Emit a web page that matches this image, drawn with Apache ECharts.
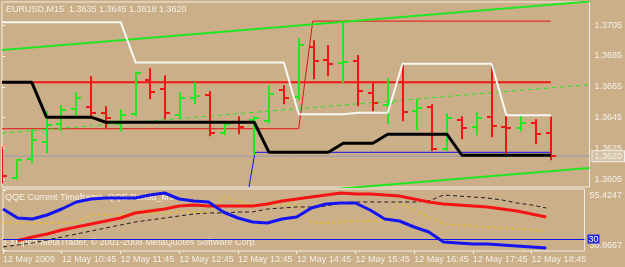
<!DOCTYPE html>
<html><head><meta charset="utf-8">
<script src="https://cdn.jsdelivr.net/npm/echarts@6/dist/echarts.min.js"></script>
<style>html,body{margin:0;padding:0;background:#CBAF89;}#c{width:625px;height:267px;}</style>
</head><body><div id="c"></div>
<script>
// ---------- data ----------
const symbolName = 'EURUSD,M15';
const tickIdx = [0, 4, 8, 12, 16, 20, 24, 28, 32, 36];
const tickLabels = ['12 May 2009','12 May 10:45','12 May 11:45','12 May 12:45','12 May 13:45','12 May 14:45','12 May 15:45','12 May 16:45','12 May 17:45','12 May 18:45'];
const priceTicks = [1.3605, 1.3625, 1.3645, 1.3665, 1.3685, 1.3705];
const qqeTicks = [55.4247, 30.8667];

const opens = [1.36225,1.36056,1.36180,1.36290,1.36407,1.36505,1.36517,1.36479,1.36407,1.36472,1.36693,1.36634,1.36466,1.36576,1.36595,1.36349,1.36420,1.36433,1.36427,1.36628,1.36582,1.36907,1.36823,1.36803,1.36816,1.36608,1.36530,1.36680,1.36492,1.36517,1.36245,1.36433,1.36388,1.36453,1.36388,1.36381,1.36414,1.3635];
const highs = [1.36251,1.36173,1.36368,1.36485,1.36524,1.36608,1.36712,1.36517,1.36498,1.36745,1.36764,1.36719,1.36608,1.36673,1.36615,1.36420,1.36453,1.36453,1.36654,1.36654,1.36959,1.36946,1.36914,1.37069,1.36849,1.36673,1.36699,1.36790,1.36563,1.36530,1.36472,1.36453,1.36479,1.36797,1.36453,1.36459,1.36433,1.3645];
const lows = [1.36030,1.36056,1.36160,1.36225,1.36368,1.36453,1.36453,1.36388,1.36368,1.36466,1.36576,1.36446,1.36446,1.36543,1.36336,1.36342,1.36349,1.36212,1.36420,1.36543,1.36569,1.36706,1.36725,1.36680,1.36530,1.36498,1.36414,1.36433,1.36375,1.36238,1.36238,1.36316,1.36342,1.36329,1.36206,1.36368,1.36284,1.3618];
const closes = [1.36069,1.36173,1.36303,1.36401,1.36498,1.36576,1.36479,1.36446,1.36466,1.36738,1.36615,1.36479,1.36576,1.36589,1.36349,1.36407,1.36388,1.36446,1.36602,1.36576,1.36920,1.36816,1.36797,1.36810,1.36621,1.36543,1.36543,1.36485,1.36511,1.36245,1.36446,1.36381,1.36446,1.36394,1.36381,1.36414,1.36342,1.3620];

const whiteStop = [1.37069,1.37069,1.37069,1.37069,1.37069,1.37069,1.37069,1.37069,1.37069,1.36808,1.36808,1.36808,1.36808,1.36808,1.36808,1.36808,1.36808,1.36808,1.36808,1.36808,1.36472,1.36472,1.36472,1.36472,1.36482,1.36482,1.36482,1.36800,1.36800,1.36800,1.36800,1.36800,1.36800,1.36800,1.36466,1.36466,1.36466,1.36466];
const blackStop = [1.36680,1.36680,1.36680,1.36453,1.36453,1.36453,1.36453,1.36420,1.36420,1.36420,1.36420,1.36420,1.36420,1.36420,1.36420,1.36420,1.36420,1.36420,1.36225,1.36225,1.36225,1.36225,1.36225,1.36284,1.36284,1.36284,1.36342,1.36342,1.36342,1.36342,1.36342,1.36206,1.36206,1.36206,1.36206,1.36206,1.36206,1.36206];

// drawn objects: [bar index, price]
const channelUpper = [[0, 1.36888], [39.6, 1.37203]];
const channelMid = [[0, 1.36349], [39.6, 1.36664]];
const channelLower = [[0, 1.35808], [39.6, 1.36123]];
const redLevel = [[0, 1.3668], [37, 1.3668]];
const redThin = [[0, 1.36378], [20, 1.36378], [20.95, 1.37076], [37, 1.37076]];
const blueObj = [[16.65, 1.3600], [17.05, 1.36225], [37, 1.36225]];
const bidSpan = [0, 39.6];

// QQE sub-window
const qqeBlue = [47.61,43.92,43.51,45.15,47.61,50.48,51.70,52.11,52.11,52.11,53.34,54.16,51.70,50.89,50.48,46.38,43.92,42.28,41.87,43.51,44.33,48.02,49.66,50.07,50.07,47.20,43.51,42.69,40.23,38.18,34.09,33.68,33.27,33.27,32.86,32.45,32.04,31.63];
const qqeRed = [null,34.7,36.14,37.36,39.00,40.23,41.46,42.69,43.92,45.97,46.79,47.61,48.84,49.25,48.84,48.84,48.84,48.84,49.66,50.89,51.70,52.52,53.34,54.16,53.75,53.75,53.34,52.93,51.70,50.48,49.66,49.25,48.84,48.43,47.61,46.79,45.56,44.33];
const qqeYellow = [41.87,41.87,41.87,41.87,41.87,41.87,45.15,45.15,45.15,45.97,45.97,45.97,46.38,46.38,46.38,52.52,50.89,49.25,49.25,49.25,49.66,41.87,41.87,42.28,42.69,42.69,43.10,50.07,47.20,44.33,41.46,41.05,40.64,40.23,39.82,39.41,39.00,38.59];
const qqeBlack = [32.04,32.86,33.68,34.91,36.14,37.36,38.59,39.82,41.05,42.28,43.10,43.92,44.74,45.56,45.97,45.97,46.38,46.38,47.61,48.02,48.43,48.43,48.84,50.07,50.48,50.48,50.48,50.48,50.48,50.89,53.34,52.93,52.52,52.11,51.29,50.07,49.25,48.02];
const qqeLevel = 35.3;
const qqeLevelText = '30';

// ---------- chart ----------
const FONT = '"Liberation Sans", Arial, sans-serif';
const FS = 9;
const BG = '#CBAF89', FRAME = '#F2EEE6', TXT = '#F4F0E8';
const BULL = '#22E622', BEAR = '#F41414';
const last = closes.length - 1;
const bid = closes[last];
const pts = a => a.map((v, i) => [i, v]);
const ohlc = opens.map((o, i) => [i, o, highs[i], lows[i], closes[i]]);

const chart = echarts.init(document.getElementById('c'), null, {renderer: 'canvas'});
const lineS = (name, data, color, width, extra) => Object.assign({
  name, type: 'line', data, xAxisIndex: 0, yAxisIndex: 0, symbol: 'none', showSymbol: false,
  silent: true, animation: false, clip: true,
  lineStyle: {color, width}, z: 3
}, extra || {});
const tStyle = {color: TXT, fontSize: FS, fontWeight: 'normal', fontFamily: FONT};

chart.setOption({
  backgroundColor: BG,
  animation: false,
  textStyle: {fontFamily: FONT},
  title: [
    {text: symbolName + '  ' + [opens[last], highs[last], lows[last], closes[last]].map(v => v.toFixed(4)).join(' '),
     left: 6, top: 5, padding: 0, z: 8, textStyle: tStyle},
    {text: 'QQE Current Timeframe  QQE Period_M5', left: 5, top: 193, padding: 0, z: 1, textStyle: tStyle},
    {text: 'FXOpen MetaTrader, \u00A9 2001-2008 MetaQuotes Software Corp.', left: 4, top: 238, padding: 0, z: 1, textStyle: tStyle}
  ],
  grid: [
    {left: 2, top: 2, width: 588, height: 185, show: true, borderColor: FRAME, borderWidth: 1, backgroundColor: 'transparent'},
    {left: 2, top: 189, width: 588, height: 62, show: true, borderColor: FRAME, borderWidth: 1, backgroundColor: 'transparent'}
  ],
  xAxis: [
    {type: 'value', gridIndex: 0, min: 0, max: 39.6, show: false},
    {type: 'value', gridIndex: 1, min: 0, max: 39.6,
     axisLine: {show: false}, splitLine: {show: false},
     axisTick: {show: true, customValues: tickIdx, length: 3, lineStyle: {color: FRAME}},
     axisLabel: {customValues: tickIdx, formatter: v => tickLabels[tickIdx.indexOf(v)], align: 'left',
                 margin: 4, color: TXT, fontSize: FS, fontFamily: FONT}}
  ],
  yAxis: [
    {type: 'value', gridIndex: 0, position: 'right', min: 1.3600, max: 1.3720,
     axisLine: {show: false}, splitLine: {show: false},
     axisTick: {show: true, customValues: priceTicks, length: 3, lineStyle: {color: FRAME}},
     axisLabel: {customValues: priceTicks, formatter: v => v.toFixed(4), margin: 5, color: TXT, fontSize: FS, fontFamily: FONT}},
    {type: 'value', gridIndex: 1, position: 'right', min: 30.4, max: 55.8,
     axisLine: {show: false}, splitLine: {show: false},
     axisTick: {show: true, customValues: qqeTicks, length: 3, lineStyle: {color: FRAME}},
     axisLabel: {customValues: qqeTicks, margin: 5, color: TXT, fontSize: FS, fontFamily: FONT,
       formatter: v => (v > 43 ? '{a|' : '{b|') + v.toFixed(4) + '}',
       rich: {a: {padding: [11, 0, 0, 0], color: TXT, fontSize: FS, fontFamily: FONT},
              b: {padding: [0, 0, 8, 0], color: TXT, fontSize: FS, fontFamily: FONT}}}}
  ],
  series: [
    lineS('bid', bidSpan.map(x => [x, bid]), '#9696B0', 1, {z: 2,
      endLabel: {show: true, distance: 3, formatter: () => bid.toFixed(4),
        color: TXT, fontSize: FS, fontFamily: FONT, backgroundColor: '#D3C3A7',
        borderColor: FRAME, borderWidth: 1, padding: [1, 2, 0, 2]}}),
    lineS('redThin', redThin, '#E01414', 1, {z: 2}),
    lineS('redLevel', redLevel, '#F41414', 2, {z: 2}),
    lineS('channelMid', channelMid, BULL, 1, {lineStyle: {color: BULL, width: 1, type: [4, 4]}}),
    lineS('channelUpper', channelUpper, BULL, 2),
    lineS('channelLower', channelLower, BULL, 2),
    lineS('blueObj', blueObj, '#1414F0', 1),
    {name: 'bars', type: 'custom', xAxisIndex: 0, yAxisIndex: 0, data: ohlc, clip: true, silent: true, z: 4,
     renderItem: (params, api) => {
       const i = api.value(0);
       const o = api.coord([i, api.value(1)]), h = api.coord([i, api.value(2)]);
       const l = api.coord([i, api.value(3)]), c = api.coord([i, api.value(4)]);
       const col = api.value(4) >= api.value(1) ? BULL : BEAR;
       const x = Math.round(h[0]);
       const st = {stroke: col, lineWidth: 2};
       return {type: 'group', children: [
         {type: 'line', shape: {x1: x, y1: h[1] - 1, x2: x, y2: l[1] + 1}, style: st},
         {type: 'line', shape: {x1: x - 5, y1: Math.round(o[1]), x2: x, y2: Math.round(o[1])}, style: st},
         {type: 'line', shape: {x1: x, y1: Math.round(c[1]), x2: x + 5, y2: Math.round(c[1])}, style: st}
       ]};
     }},
    lineS('white', pts(whiteStop), '#F8F8F4', 2, {z: 5}),
    lineS('black', pts(blackStop), '#000000', 3, {z: 5}),
    // QQE
    lineS('qqeBlack', pts(qqeBlack), '#1E1E1E', 1, {xAxisIndex: 1, yAxisIndex: 1, lineStyle: {color: '#1E1E1E', width: 1, type: [4, 3]}}),
    lineS('qqeYellow', pts(qqeYellow), '#F2C500', 1, {xAxisIndex: 1, yAxisIndex: 1, lineStyle: {color: '#F2C500', width: 1, type: [3, 3]}}),
    lineS('qqeRed', pts(qqeRed), '#F41414', 3, {xAxisIndex: 1, yAxisIndex: 1}),
    lineS('qqeBlue', pts(qqeBlue), '#1414F0', 3, {xAxisIndex: 1, yAxisIndex: 1, z: 4,
      markLine: {silent: true, symbol: 'none', animation: false,
        lineStyle: {color: '#1414E0', width: 1, type: 'solid'},
        data: [[{coord: [0, qqeLevel]}, {coord: [39.6, qqeLevel]}]],
        label: {show: true, position: 'end', distance: 3, formatter: () => qqeLevelText,
          color: '#FFFFFF', fontSize: FS, fontFamily: FONT, backgroundColor: '#2020E8', padding: [0, 1, 0, 1]}}})
  ]
});
</script>
</body></html>
